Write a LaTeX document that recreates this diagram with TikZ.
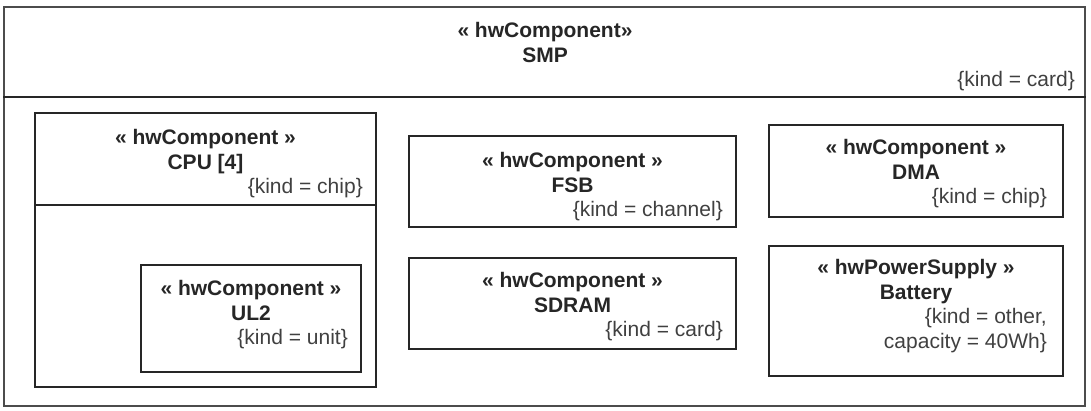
\documentclass[tikz,border=0pt]{standalone}
\usepackage{fontspec}
\setmainfont{Liberation Sans}
\usetikzlibrary{positioning, fit}

\begin{document}
\begin{tikzpicture}[x=1pt, y=-1pt,
  part/.style={draw=black!85, line width=1.7pt, inner sep=0pt},
  stereo/.style={font=\fontsize{21}{25}\selectfont\bfseries, text=black!85, inner sep=0pt, anchor=base},
  kindtag/.style={font=\fontsize{21}{25}\selectfont, text=black!75, inner sep=0pt, anchor=base east}]
\useasboundingbox (0,0) rectangle (1091,410);

% outer SMP card
\node[part, draw=black!70, line width=2pt, fit={(4,7) (1085,406)}] (smp) {};
\draw[part] ([yshift=-91pt]smp.north west) -- ([yshift=-91pt]smp.north east);
\node[stereo] (smpst) at (545,37) {« hwComponent»};
\node[stereo] (smpname) at ([yshift=-25pt]smpst.base) {SMP};
\node[kindtag] (smpkind) at (1075,86) {\{kind = card\}};

% CPU with nested UL2
\node[part, fit={(35,113) (376,387)}] (cpu) {};
\draw[part] ([yshift=-93pt]cpu.north west) -- ([yshift=-93pt]cpu.north east);
\node[stereo] (cpust) at (205.5,144) {« hwComponent »};
\node[stereo] (cpuname) at ([yshift=-25pt]cpust.base) {CPU [4]};
\node[kindtag] (cpukind) at (363,193) {\{kind = chip\}};

\node[part, fit={(141,265) (361,372)}] (ul2) {};
\node[stereo] (ul2st) at (251,295) {« hwComponent »};
\node[stereo] (ul2name) at ([yshift=-25pt]ul2st.base) {UL2};
\node[kindtag] (ul2kind) at (348,344) {\{kind = unit\}};

% middle column
\node[part, fit={(409,136) (736,227)}] (fsb) {};
\node[stereo] (fsbst) at (572.5,167) {« hwComponent »};
\node[stereo] (fsbname) at ([yshift=-25pt]fsbst.base) {FSB};
\node[kindtag] (fsbkind) at (723,216) {\{kind = channel\}};

\node[part, fit={(409,258) (736,349)}] (sdram) {};
\node[stereo] (sdramst) at (572.5,287) {« hwComponent »};
\node[stereo] (sdramname) at ([yshift=-25pt]sdramst.base) {SDRAM};
\node[kindtag] (sdramkind) at (723,336) {\{kind = card\}};

% right column
\node[part, fit={(769,125) (1063,217)}] (dma) {};
\node[stereo] (dmast) at (916,154) {« hwComponent »};
\node[stereo] (dmaname) at ([yshift=-25pt]dmast.base) {DMA};
\node[kindtag] (dmakind) at (1047,203) {\{kind = chip\}};

\node[part, fit={(769,246) (1063,376)}] (battery) {};
\node[stereo] (batteryst) at (916,274) {« hwPowerSupply »};
\node[stereo] (batteryname) at ([yshift=-25pt]batteryst.base) {Battery};
\node[kindtag] (batterykind) at (1047,323) {\{kind = other,};
\node[kindtag] (batterycap) at (1047,348) {capacity = 40Wh\}};
\end{tikzpicture}
\end{document}
